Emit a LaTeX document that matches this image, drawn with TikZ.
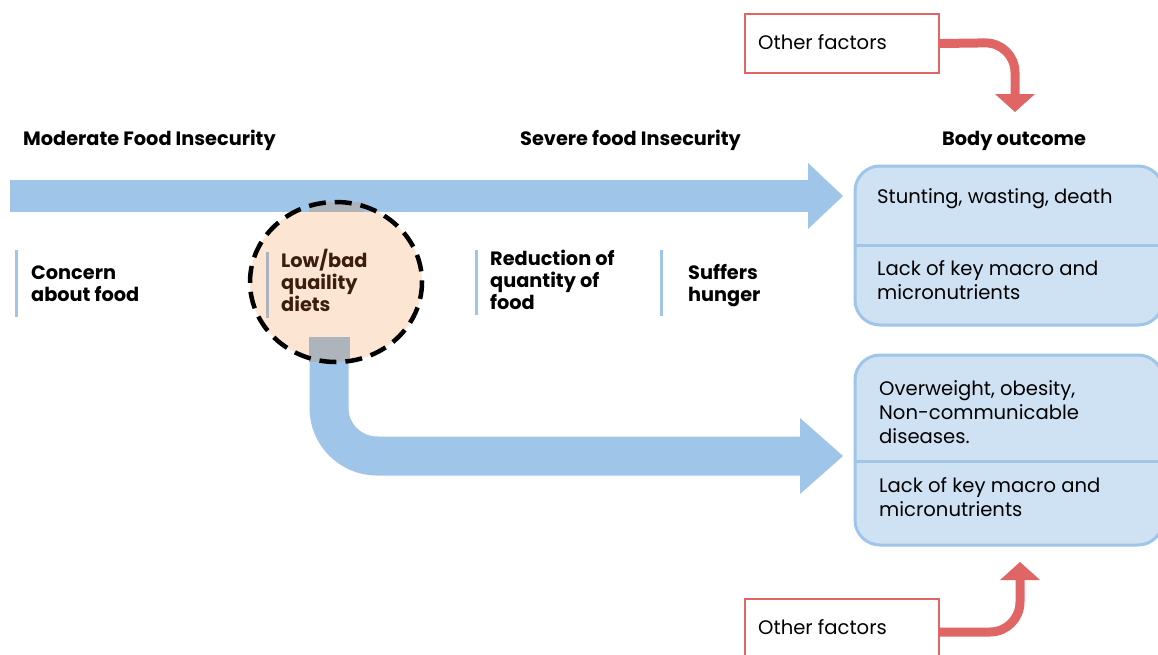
\documentclass[tikz,border=0pt]{standalone}
\usepackage{fontspec}
\setmainfont{Poppins}
\definecolor{flowblue}{HTML}{9FC5E8}
\definecolor{boxblue}{HTML}{CFE2F3}
\definecolor{factorred}{HTML}{E06666}
\definecolor{peach}{HTML}{FCE5D3}
\definecolor{bargray}{HTML}{ADB4BB}
\definecolor{dietbrown}{HTML}{3A1E10}
\tikzset{
  heading/.style={font=\bfseries\fontsize{19.3}{22}\selectfont, anchor=base west, inner sep=0pt},
  stage/.style={font=\bfseries\fontsize{19.3}{22}\selectfont, anchor=base west, inner sep=0pt, align=left},
  outcome/.style={font=\fontsize{19.6}{24}\selectfont, anchor=base west, inner sep=0pt, align=left},
  outbox/.style={draw=flowblue, fill=boxblue, line width=3pt, rounded corners=25pt},
  factorbox/.style={draw=factorred, fill=white, line width=2pt},
  factortext/.style={font=\fontsize{19.6}{24}\selectfont, anchor=base west, inner sep=0pt},
  factorarrow/.style={draw=factorred, line width=9pt, rounded corners=30pt},
  stagebar/.style={line width=3pt},
}
\begin{document}
\begin{tikzpicture}[x=1pt,y=-1pt]
\useasboundingbox (0,0) rectangle (1158,654);

% headings
\node[heading] (moderate) at (23,145) {Moderate Food Insecurity};
\node[heading] (severe) at (520,145) {Severe food Insecurity};
\node[heading] (body) at (942,145) {Body outcome};

% highlighted stage behind the main flow
\fill[peach] (336,282) ellipse [x radius=86, y radius=80];

% main flow arrow
\coordinate (flowstart) at (10,196);
\coordinate (flowhead) at (808,196);
\draw[flowblue, line width=32pt] (flowstart) -- (flowhead);
\fill[flowblue] (808,163) -- (843,196) -- (808,229) -- cycle;

% branch flow arrow
\coordinate (branchstart) at (329,337);
\coordinate (branchhead) at (800,456);
\draw[flowblue, line width=39pt, rounded corners=48pt] (branchstart) -- (329,456) -- (branchhead);
\fill[flowblue] (800,418) -- (843,456) -- (800,494) -- cycle;

% gray joints where the flows meet the circle
\fill[bargray] (309,202) rectangle (364,212);
\fill[bargray] (309,337) rectangle (350,362);

% dashed outline of the highlighted stage
\draw[black, line width=4.5pt, dash pattern=on 17pt off 9pt] (336,282) ellipse [x radius=86, y radius=80];

% stages (base anchor sits on the last line)
\draw[stagebar, flowblue] (16,250) -- (16,317);
\node[stage] (concern) at (31,301) {Concern\\about food};
\draw[stagebar, bargray] (267,252) -- (267,318);
\node[stage, text=dietbrown] (diets) at (281,311) {Low/bad\\quaility\\diets};
\draw[stagebar, flowblue] (476,250) -- (476,315);
\node[stage] (reduction) at (490,309) {Reduction of\\quantity of\\food};
\draw[stagebar, flowblue] (661,250) -- (661,316);
\node[stage] (hunger) at (688,301) {Suffers\\hunger};

% outcome boxes
\draw[outbox] (855,166) rectangle (1163,325);
\draw[flowblue, line width=3pt] (855,245) -- (1160,245);
\node[outcome] (severeout) at (877,203) {Stunting, wasting, death};
\node[outcome] (lack1) at (877,299) {Lack of key macro and\\micronutrients};

\draw[outbox] (855,355) rectangle (1163,545);
\draw[flowblue, line width=3pt] (855,461) -- (1160,461);
\node[outcome] (overweight) at (879,443) {Overweight, obesity,\\Non-communicable\\diseases.};
\node[outcome] (lack2) at (879,516) {Lack of key macro and\\micronutrients};

% other factors
\node[factorbox, minimum width=194pt, minimum height=59pt, anchor=north west] (factorstop) at (744,13) {};
\node[factortext] (factorstoptext) at (758,49) {Other factors};
\draw[factorarrow] (factorstop.east) -- (1015,42.5) -- (1015,95);
\fill[factorred] (995,94) -- (1035,94) -- (1015,112) -- cycle;

\node[factorbox, minimum width=194pt, minimum height=70pt, anchor=north west] (factorsbot) at (744,598) {};
\node[factortext] (factorsbottext) at (758,634) {Other factors};
\draw[factorarrow] (938,632) -- (1020,632) -- (1020,579);
\fill[factorred] (1000,580) -- (1040,580) -- (1020,562) -- cycle;
\end{tikzpicture}
\end{document}
